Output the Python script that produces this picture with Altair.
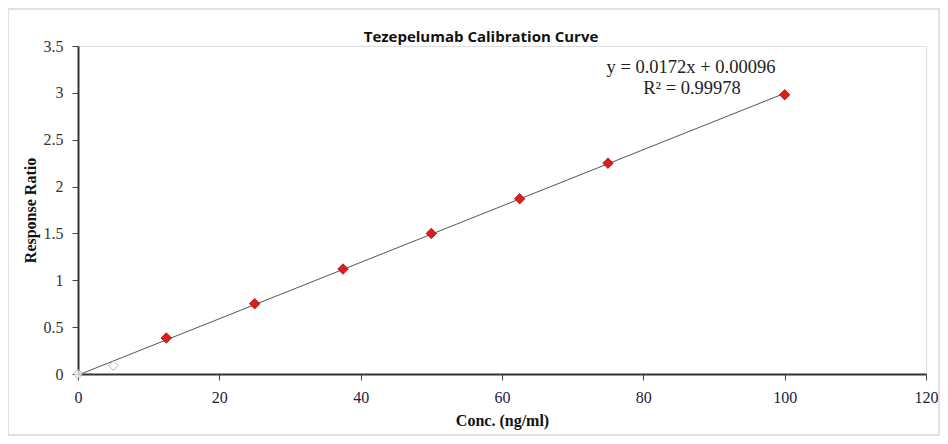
import altair as alt
import pandas as pd

# calibration standards (red diamonds)
conc = [12.5, 25, 37.5, 50, 62.5, 75, 100]
ratio = [0.384, 0.75, 1.12, 1.50, 1.87, 2.25, 2.98]

# low points drawn as hollow markers
low_conc = [0, 5]
low_ratio = [0.0, 0.09]

x_ticks = [0, 20, 40, 60, 80, 100, 120]
y_ticks = [0, 0.5, 1, 1.5, 2, 2.5, 3, 3.5]

eq_lines = ["y = 0.0172x + 0.00096", "R² = 0.99978"]
title_text = "Tezepelumab Calibration Curve"

W, H = 848, 328

df = pd.DataFrame({"conc": conc, "ratio": ratio})
df_all = pd.DataFrame({"conc": low_conc + conc, "ratio": low_ratio + ratio})
df_low = pd.DataFrame({"conc": low_conc, "ratio": low_ratio})

xs = alt.Scale(domain=[0, 120], nice=False)
ys = alt.Scale(domain=[0, 3.5], nice=False)

x_enc = alt.X("conc:Q", scale=xs, title="Conc. (ng/ml)",
              axis=alt.Axis(values=x_ticks, grid=False, tickSize=6, labelPadding=9,
                            titlePadding=7, labelFont="Liberation Serif", labelFontSize=16,
                            labelColor="#1c1c3c", titleFont="Liberation Serif",
                            titleFontSize=16, titleFontWeight="bold", titleColor="#111",
                            domainColor="#333", domainWidth=2, tickColor="#444",
                            labelFlush=False, format="~g"))
y_enc = alt.Y("ratio:Q", scale=ys, title="Response Ratio",
              axis=alt.Axis(values=y_ticks, grid=False, tickSize=6, labelPadding=9,
                            titlePadding=5, labelFont="Liberation Serif", labelFontSize=16,
                            labelColor="#333", titleFont="Liberation Serif",
                            titleFontSize=16, titleFontWeight="bold", titleColor="#111",
                            domainColor="#333", domainWidth=2, tickColor="#444",
                            labelFlush=False, format="~g"))

frame = alt.Chart(pd.DataFrame({"a": [0]})).mark_rect(
    fill=None, stroke="#d8d8d8", strokeWidth=1.5
).encode(x=alt.value(-70), x2=alt.value(W + 13), y=alt.value(-37), y2=alt.value(H + 61))

trend = alt.Chart(df_all).transform_regression(
    "conc", "ratio", extent=[0, 100]
).mark_line(color="#555", strokeWidth=1).encode(x=x_enc, y=y_enc)

low = alt.Chart(df_low).mark_point(
    shape="diamond", size=90, filled=True, fill="white", stroke="#999", strokeWidth=1
).encode(x=alt.X("conc:Q", scale=xs), y=alt.Y("ratio:Q", scale=ys))

pts = alt.Chart(df).mark_point(
    shape="diamond", size=110, filled=True, fill="#dd1c1c", stroke="#a01010", strokeWidth=0.8,
    opacity=1
).encode(x=alt.X("conc:Q", scale=xs), y=alt.Y("ratio:Q", scale=ys))

eq_df = pd.DataFrame({"t": eq_lines, "i": [0, 1]})
eq1 = alt.Chart(eq_df.iloc[[0]]).mark_text(
    font="Liberation Serif", fontSize=18.5, color="#222", align="center", baseline="alphabetic"
).encode(text="t:N", x=alt.value(613), y=alt.value(27))
eq2 = alt.Chart(eq_df.iloc[[1]]).mark_text(
    font="Liberation Serif", fontSize=18.5, color="#222", align="center", baseline="alphabetic"
).encode(text="t:N", x=alt.value(614), y=alt.value(48))

title = alt.Chart(pd.DataFrame({"t": [title_text]})).mark_text(
    font="Open Sans", fontSize=15, fontWeight="bold", color="#111",
    align="center", baseline="alphabetic"
).encode(text="t:N", x=alt.value(403), y=alt.value(-4))

chart = alt.layer(frame, trend, low, pts, eq1, eq2, title).properties(
    width=W, height=H,
    autosize=alt.AutoSizeParams(type="none"),
    padding={"left": 70, "top": 38, "right": 14, "bottom": 62},
).configure_view(stroke="#333", strokeWidth=2).configure(background="white")

chart.save("out.html", embed_options={"renderer": "svg", "actions": False})
